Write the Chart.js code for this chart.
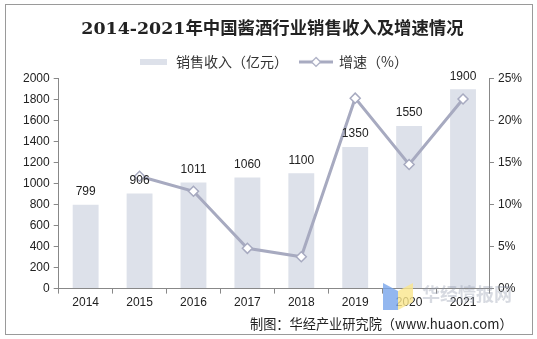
<!DOCTYPE html>
<html>
<head>
<meta charset="utf-8">
<script src="https://cdn.jsdelivr.net/npm/chart.js@4.4.1/dist/chart.umd.min.js"></script>
<style>
  body { margin: 0; background: #fff; }
  #wrap { position: relative; width: 537px; height: 339px; }
  #frame { position: absolute; left: 5px; top: 4px; width: 526px; height: 329px; border: 1px solid #9a9a9a; pointer-events: none; }
  #source { position: absolute; left: 250px; top: 314px; font: 13.2px "Noto Sans CJK SC", sans-serif; color: #222; white-space: nowrap; }
  #mark { position: absolute; left: 422px; top: 280px; font: bold 18px "Noto Sans CJK SC", sans-serif; color: rgba(140,150,170,0.35); white-space: nowrap; }
  #logoA { position: absolute; left: 383px; top: 283px; width: 15px; height: 27px; background: rgba(120,165,235,0.8); clip-path: polygon(0 0, 100% 30%, 100% 100%, 0 100%); }
  #logoB { position: absolute; left: 398px; top: 283px; width: 15px; height: 27px; background: rgba(250,230,140,0.8); clip-path: polygon(0 30%, 100% 0, 100% 70%, 0 100%); }
</style>
</head>
<body>
<div id="wrap">
  <canvas id="chart" width="537" height="339"></canvas>
  <div id="logoA"></div>
  <div id="logoB"></div>
  <div id="mark">华经情报网</div>
  <div id="source">制图：华经产业研究院（www.huaon.com）</div>
  <div id="frame"></div>
</div>
<script>
const years = ['2014', '2015', '2016', '2017', '2018', '2019', '2020', '2021'];
const revenue = [799, 906, 1011, 1060, 1100, 1350, 1550, 1900];
const growth = [null, 13.4, 11.6, 4.8, 3.8, 22.7, 14.8, 22.6];

const barColor = '#dde1ea';
const lineColor = '#a7aac0';

const ctx = document.getElementById('chart').getContext('2d');

// Legendensymbole als kleine Canvas
const barIcon = document.createElement('canvas');
barIcon.width = 27; barIcon.height = 6;
barIcon.getContext('2d').fillStyle = barColor;
barIcon.getContext('2d').fillRect(0, 0, 27, 6);

const lineIcon = document.createElement('canvas');
lineIcon.width = 34; lineIcon.height = 12;
(() => {
    const c = lineIcon.getContext('2d');
    c.strokeStyle = lineColor;
    c.lineWidth = 3;
    c.beginPath(); c.moveTo(0, 6); c.lineTo(34, 6); c.stroke();
    c.fillStyle = '#fff';
    c.lineWidth = 1.2;
    c.beginPath();
    c.moveTo(17, 1.5); c.lineTo(21.5, 6); c.lineTo(17, 10.5); c.lineTo(12.5, 6); c.closePath();
    c.fill(); c.stroke();
})();

// Zahlen ueber den Balken
const barLabels = {
    id: 'barLabels',
    afterDatasetsDraw(chart) {
        const meta = chart.getDatasetMeta(0);
        const c = chart.ctx;
        c.save();
        c.font = '12px "Liberation Sans", Arial, sans-serif';
        c.fillStyle = '#222';
        c.textAlign = 'center';
        c.textBaseline = 'bottom';
        meta.data.forEach((bar, i) => {
            c.fillText(revenue[i], bar.x, bar.y - 7);
        });
        c.restore();
    }
};

const tickFont = { family: '"Liberation Sans", Arial, sans-serif', size: 12 };

new Chart(ctx, {
    data: {
        labels: years,
        datasets: [{
            type: 'bar',
            label: '销售收入（亿元）',
            data: revenue,
            backgroundColor: barColor,
            categoryPercentage: 1,
            barPercentage: 0.48,
            yAxisID: 'y',
            order: 2
        }, {
            type: 'line',
            label: '增速（%）',
            data: growth,
            borderColor: lineColor,
            borderWidth: 3,
            backgroundColor: '#ffffff',
            pointStyle: 'rectRot',
            pointRadius: 5,
            pointBorderWidth: 1.5,
            pointBorderColor: lineColor,
            tension: 0,
            yAxisID: 'y1',
            order: 1
        }]
    },
    options: {
        responsive: false,
        animation: false,
        layout: { padding: { left: 19, right: 11, top: 8, bottom: 27 } },
        plugins: {
            title: {
                display: true,
                text: '2014-2021年中国酱酒行业销售收入及增速情况',
                color: '#222',
                font: { family: '"DejaVu Serif", "Noto Sans CJK SC", serif', size: 17.4, weight: 'bold' },
                padding: { top: 11, bottom: 3 }
            },
            legend: {
                position: 'top',
                labels: {
                    color: '#333',
                    font: { family: '"Noto Sans CJK SC", sans-serif', size: 14 },
                    usePointStyle: true,
                    pointStyleWidth: 32,
                    padding: 12,
                    generateLabels(chart) {
                        return [{
                            text: '销售收入（亿元）',
                            pointStyle: barIcon,
                            datasetIndex: 0,
                            fontColor: '#333'
                        }, {
                            text: '增速（%）',
                            pointStyle: lineIcon,
                            datasetIndex: 1,
                            fontColor: '#333'
                        }];
                    }
                }
            },
            tooltip: { enabled: false }
        },
        scales: {
            x: {
                grid: { display: true, drawOnChartArea: false, offset: true, tickLength: 5, color: '#888' },
                border: { color: '#888' },
                ticks: { color: '#222', font: tickFont, padding: 2 }
            },
            y: {
                position: 'left',
                min: 0,
                max: 2000,
                ticks: { stepSize: 200, color: '#222', font: tickFont, padding: 4, callback: v => String(v) },
                grid: { drawOnChartArea: false, tickLength: 5, color: '#888' },
                border: { color: '#888' }
            },
            y1: {
                position: 'right',
                min: 0,
                max: 25,
                ticks: { stepSize: 5, color: '#222', font: tickFont, padding: 4, callback: v => v + '%' },
                grid: { drawOnChartArea: false, tickLength: 4, color: '#888' },
                border: { color: '#888' }
            }
        }
    },
    plugins: [barLabels]
});
</script>
</body>
</html>
